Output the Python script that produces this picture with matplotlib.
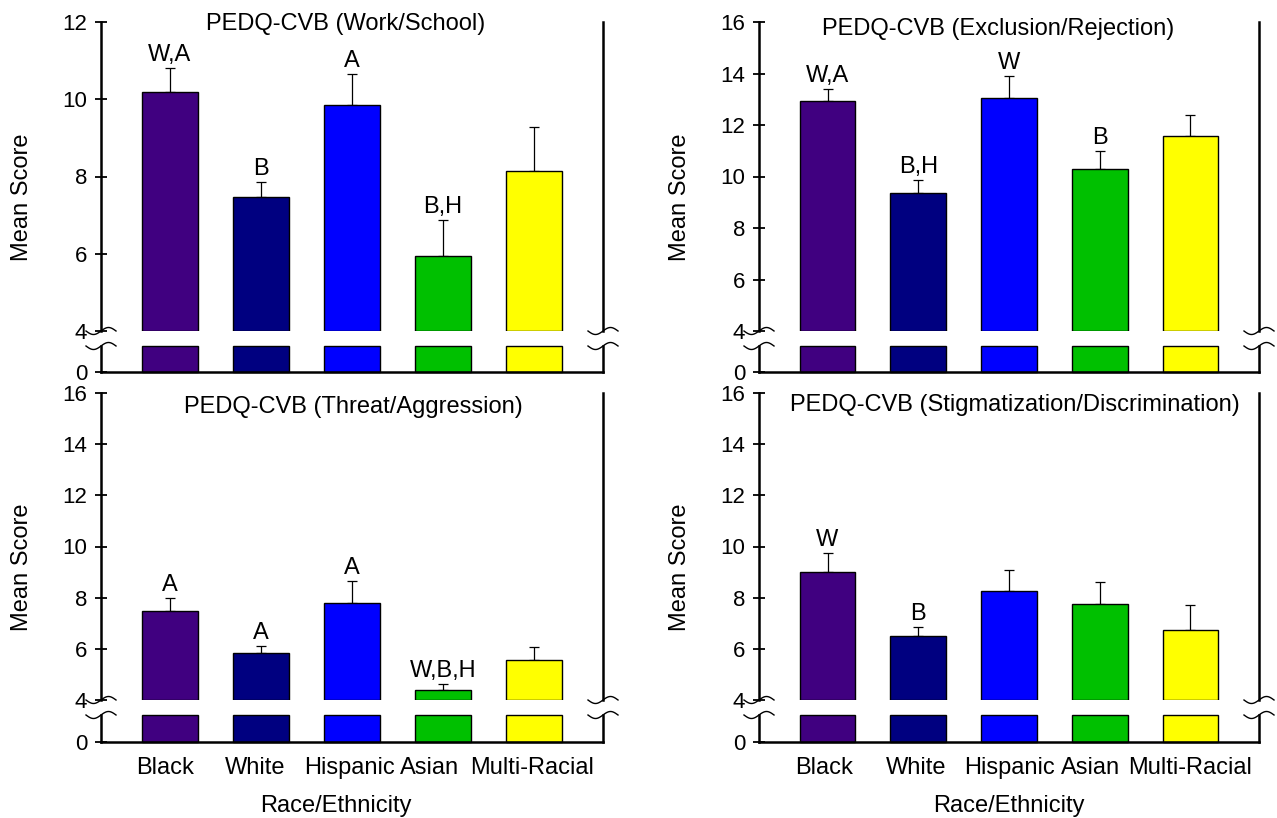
import matplotlib.pyplot as plt
from matplotlib.transforms import ScaledTranslation
import numpy as np

plt.rcParams['font.family'] = ['Liberation Sans', 'DejaVu Sans']

# data
categories = ['Black', 'White', 'Hispanic', 'Asian', 'Multi-Racial']
bar_colors = ['#400080', '#000080', '#0000FF', '#00C000', '#FFFF00']

work_mean = [10.19, 7.47, 9.86, 5.95, 8.15]
work_err = [0.62, 0.39, 0.79, 0.92, 1.14]
work_sig = ['W,A', 'B', 'A', 'B,H', '']

excl_mean = [12.95, 9.35, 13.05, 10.30, 11.59]
excl_err = [0.45, 0.50, 0.85, 0.70, 0.80]
excl_sig = ['W,A', 'B,H', 'W', 'B', '']

threat_mean = [7.46, 5.85, 7.78, 4.39, 5.58]
threat_err = [0.52, 0.28, 0.86, 0.24, 0.51]
threat_sig = ['A', 'A', 'A', 'W,B,H', '']

stig_mean = [9.01, 6.52, 8.28, 7.75, 6.75]
stig_err = [0.72, 0.35, 0.80, 0.85, 0.95]
stig_sig = ['W', 'B', '', '', '']

W, H = 1277, 818
fig = plt.figure(figsize=(W / 100, H / 100), dpi=100)


def px_axes(x0, x1, y0, y1):
    return fig.add_axes([x0 / W, 1 - y1 / H, (x1 - x0) / W, (y1 - y0) / H])


def squiggle(ax, xa, ya):
    # little "~" break mark, sized in inches, anchored in axes coords
    t = np.linspace(-0.5, 0.5, 40)
    tr = fig.dpi_scale_trans + ScaledTranslation(xa, ya, ax.transAxes)
    ax.plot(t * 0.30, 0.035 * np.sin(2 * np.pi * t), transform=tr,
            color='black', lw=1.0, clip_on=False)


# title, means, errors, letters, ymax, (x0, x1, ytop, ybreak, ystub, yzero),
# title pos, x label shifts (px) or None, x-axis title centre
panels = [
    ('PEDQ-CVB (Work/School)', work_mean, work_err, work_sig, 12,
     (101, 603, 22, 331, 346, 372), (346, 24), None, None),
    ('PEDQ-CVB (Exclusion/Rejection)', excl_mean, excl_err, excl_sig, 16,
     (759, 1259, 22, 331, 346, 372), (998, 29), None, None),
    ('PEDQ-CVB (Threat/Aggression)', threat_mean, threat_err, threat_sig, 16,
     (101, 603, 393, 700, 715, 742), (353, 407), [-5, -6, -3, -14, -2], 336),
    ('PEDQ-CVB (Stigmatization/Discrimination)', stig_mean, stig_err, stig_sig, 16,
     (759, 1259, 393, 700, 715, 742), (1015, 405), [-3, -2, 1, -9, 0], 1009),
]

x = np.arange(len(categories))
bw = 0.615
stub = 1.0

for title, mean, err, sig, ymax, box, tpos, shifts, xt_cx in panels:
    x0, x1, ytop, ybrk, ystub, yzero = box
    ax = px_axes(x0, x1, ytop, ybrk)
    axb = px_axes(x0, x1, ystub, yzero)

    # upper part, starting at 4
    ax.bar(x, np.array(mean) - 4, bottom=4, width=bw, color=bar_colors,
           edgecolor='black', linewidth=1.0, zorder=2)
    ax.errorbar(x, mean, yerr=[np.zeros(len(err)), err], fmt='none',
                ecolor='black', elinewidth=0.9, capsize=3.5, capthick=0.9, zorder=1)
    for xi, m, e, s in zip(x, mean, err, sig):
        if s:
            ax.annotate(s, (xi, m + e), xytext=(0, 5), textcoords='offset points',
                        ha='center', va='baseline', fontsize=17)
    ax.set_ylim(4, ymax)
    ax.set_yticks(range(4, ymax + 1, 2))
    ax.set_xlim(-0.755, 4.755)
    ax.set_xticks([])
    for side in ['top', 'bottom']:
        ax.spines[side].set_visible(False)
    for side in ['left', 'right']:
        ax.spines[side].set_linewidth(1.8)

    # stub below the break
    axb.bar(x, np.minimum(mean, stub), width=bw, color=bar_colors,
            edgecolor='black', linewidth=1.0, clip_on=False)
    axb.set_ylim(0, stub)
    axb.set_yticks([0])
    axb.set_xlim(-0.755, 4.755)
    axb.spines['top'].set_visible(False)
    for side in ['left', 'right', 'bottom']:
        axb.spines[side].set_linewidth(1.8)
    if shifts is not None:
        axb.set_xticks(x)
        axb.set_xticklabels(categories, fontsize=17)
        axb.tick_params(axis='x', length=0, pad=11)
        for lab, dx in zip(axb.get_xticklabels(), shifts):
            lab.set_transform(lab.get_transform()
                              + ScaledTranslation(dx / 100, 0, fig.dpi_scale_trans))
    else:
        axb.set_xticks([])

    for a in (ax, axb):
        a.tick_params(axis='y', direction='inout', length=9, width=1.3,
                      labelsize=16, pad=5.5)

    # break marks on both spines
    for xa in (0, 1):
        squiggle(ax, xa, 0)
        squiggle(axb, xa, 1)

    fig.text(tpos[0] / W, 1 - tpos[1] / H, title, ha='center', va='center', fontsize=17)
    fig.text((x0 - 79) / W, 1 - (ytop + yzero) / 2 / H, 'Mean Score',
             rotation=90, ha='center', va='center', fontsize=17)
    if xt_cx is not None:
        fig.text(xt_cx / W, 1 - 806 / H, 'Race/Ethnicity', ha='center', va='center',
                 fontsize=17)

fig.savefig('out.png', dpi=100)
